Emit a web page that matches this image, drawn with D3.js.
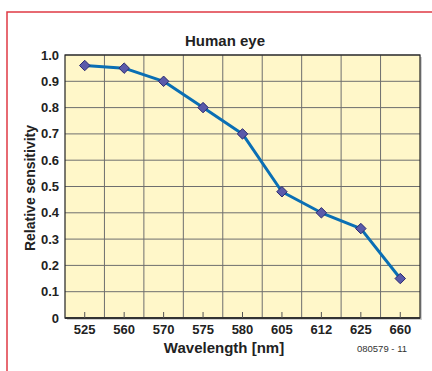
<!DOCTYPE html>
<html><head><meta charset="utf-8">
<script src="https://cdn.jsdelivr.net/npm/d3@7"></script>
<style>body{margin:0;background:#fff}svg{display:block}</style>
</head><body><svg id="c" width="432" height="371"></svg>
<script>
const categories = ["525","560","570","575","580","605","612","625","660"];
const values = [0.96,0.95,0.90,0.80,0.70,0.48,0.40,0.34,0.15];
const yTicks = [0,0.1,0.2,0.3,0.4,0.5,0.6,0.7,0.8,0.9,1.0];

const svg = d3.select("#c");
const FONT = "'Liberation Sans Narrow','Arial Narrow','Liberation Sans',Arial,sans-serif";
const L=65, R=420, T=55, B=318;

// red frame
svg.append("path").attr("d","M7,371 V12 H432").attr("fill","none").attr("stroke","#e03a44").attr("stroke-width",1.5);

const x = d3.scaleBand().domain(categories).range([L,R]).padding(0);
const y = d3.scaleLinear().domain([0,1]).range([B,T]);

// shadow
svg.append("rect").attr("x",L+2).attr("y",T+2).attr("width",R-L).attr("height",B-T).attr("fill","#cfcfcf");
svg.append("rect").attr("x",L).attr("y",T).attr("width",R-L).attr("height",B-T).attr("fill","#fff7c9");

// grid
const g = svg.append("g");
g.selectAll("line.h").data(yTicks.slice(1)).join("line")
  .attr("x1",L).attr("x2",R).attr("y1",d=>y(d)).attr("y2",d=>y(d))
  .attr("stroke","#6e6e6e").attr("stroke-width",1);
g.selectAll("line.v").data(categories.slice(1)).join("line")
  .attr("x1",d=>x(d)).attr("x2",d=>x(d)).attr("y1",T).attr("y2",B)
  .attr("stroke","#6e6e6e").attr("stroke-width",1);
svg.append("rect").attr("x",L).attr("y",T).attr("width",R-L).attr("height",B-T)
  .attr("fill","none").attr("stroke","#222").attr("stroke-width",1.2);
svg.append("line").attr("x1",L).attr("x2",R).attr("y1",B).attr("y2",B).attr("stroke","#333").attr("stroke-width",2);

// x ticks inside
svg.selectAll("line.xt").data(categories).join("line")
  .attr("x1",d=>x(d)+x.bandwidth()/2).attr("x2",d=>x(d)+x.bandwidth()/2)
  .attr("y1",B).attr("y2",B-6).attr("stroke","#555").attr("stroke-width",1);

// y tick labels
svg.selectAll("text.yl").data(yTicks).join("text")
  .attr("x",L-6).attr("y",d=>y(d)+4.5).attr("text-anchor","end")
  .attr("font-family",FONT).attr("font-weight","bold").attr("font-size",13).attr("fill","#222")
  .text(d=>d===0?"0":d.toFixed(1));
// x tick labels
svg.selectAll("text.xl").data(categories).join("text")
  .attr("x",d=>x(d)+x.bandwidth()/2).attr("y",334).attr("text-anchor","middle")
  .attr("font-family",FONT).attr("font-weight","bold").attr("font-size",13).attr("fill","#222")
  .text(d=>d);

// line
const pts = categories.map((c,i)=>[x(c)+x.bandwidth()/2, y(values[i])]);
svg.append("path").attr("d",d3.line()(pts)).attr("fill","none")
  .attr("stroke","#0a6fb4").attr("stroke-width",3).attr("stroke-linejoin","round");
svg.selectAll("path.m").data(pts).join("path")
  .attr("d",d3.symbol(d3.symbolDiamond2,70)())
  .attr("transform",d=>`translate(${d[0]},${d[1]})`)
  .attr("fill","#5a5aaa").attr("stroke","#2a2a70").attr("stroke-width",1);

// titles
svg.append("text").attr("x",225).attr("y",46).attr("text-anchor","middle")
  .attr("font-family",FONT).attr("font-weight","bold").attr("font-size",15).attr("fill","#222").text("Human eye");
svg.append("text").attr("x",224).attr("y",353).attr("text-anchor","middle")
  .attr("font-family",FONT).attr("font-weight","bold").attr("font-size",15).attr("fill","#222").text("Wavelength [nm]");
svg.append("text").attr("transform","translate(35,188) rotate(-90)").attr("text-anchor","middle")
  .attr("font-family",FONT).attr("font-weight","bold").attr("font-size",14).attr("fill","#222").text("Relative sensitivity");
svg.append("text").attr("x",407).attr("y",352).attr("text-anchor","end")
  .attr("font-family",FONT).attr("font-size",9.5).attr("fill","#333").text("080579 - 11");
</script></body></html>
